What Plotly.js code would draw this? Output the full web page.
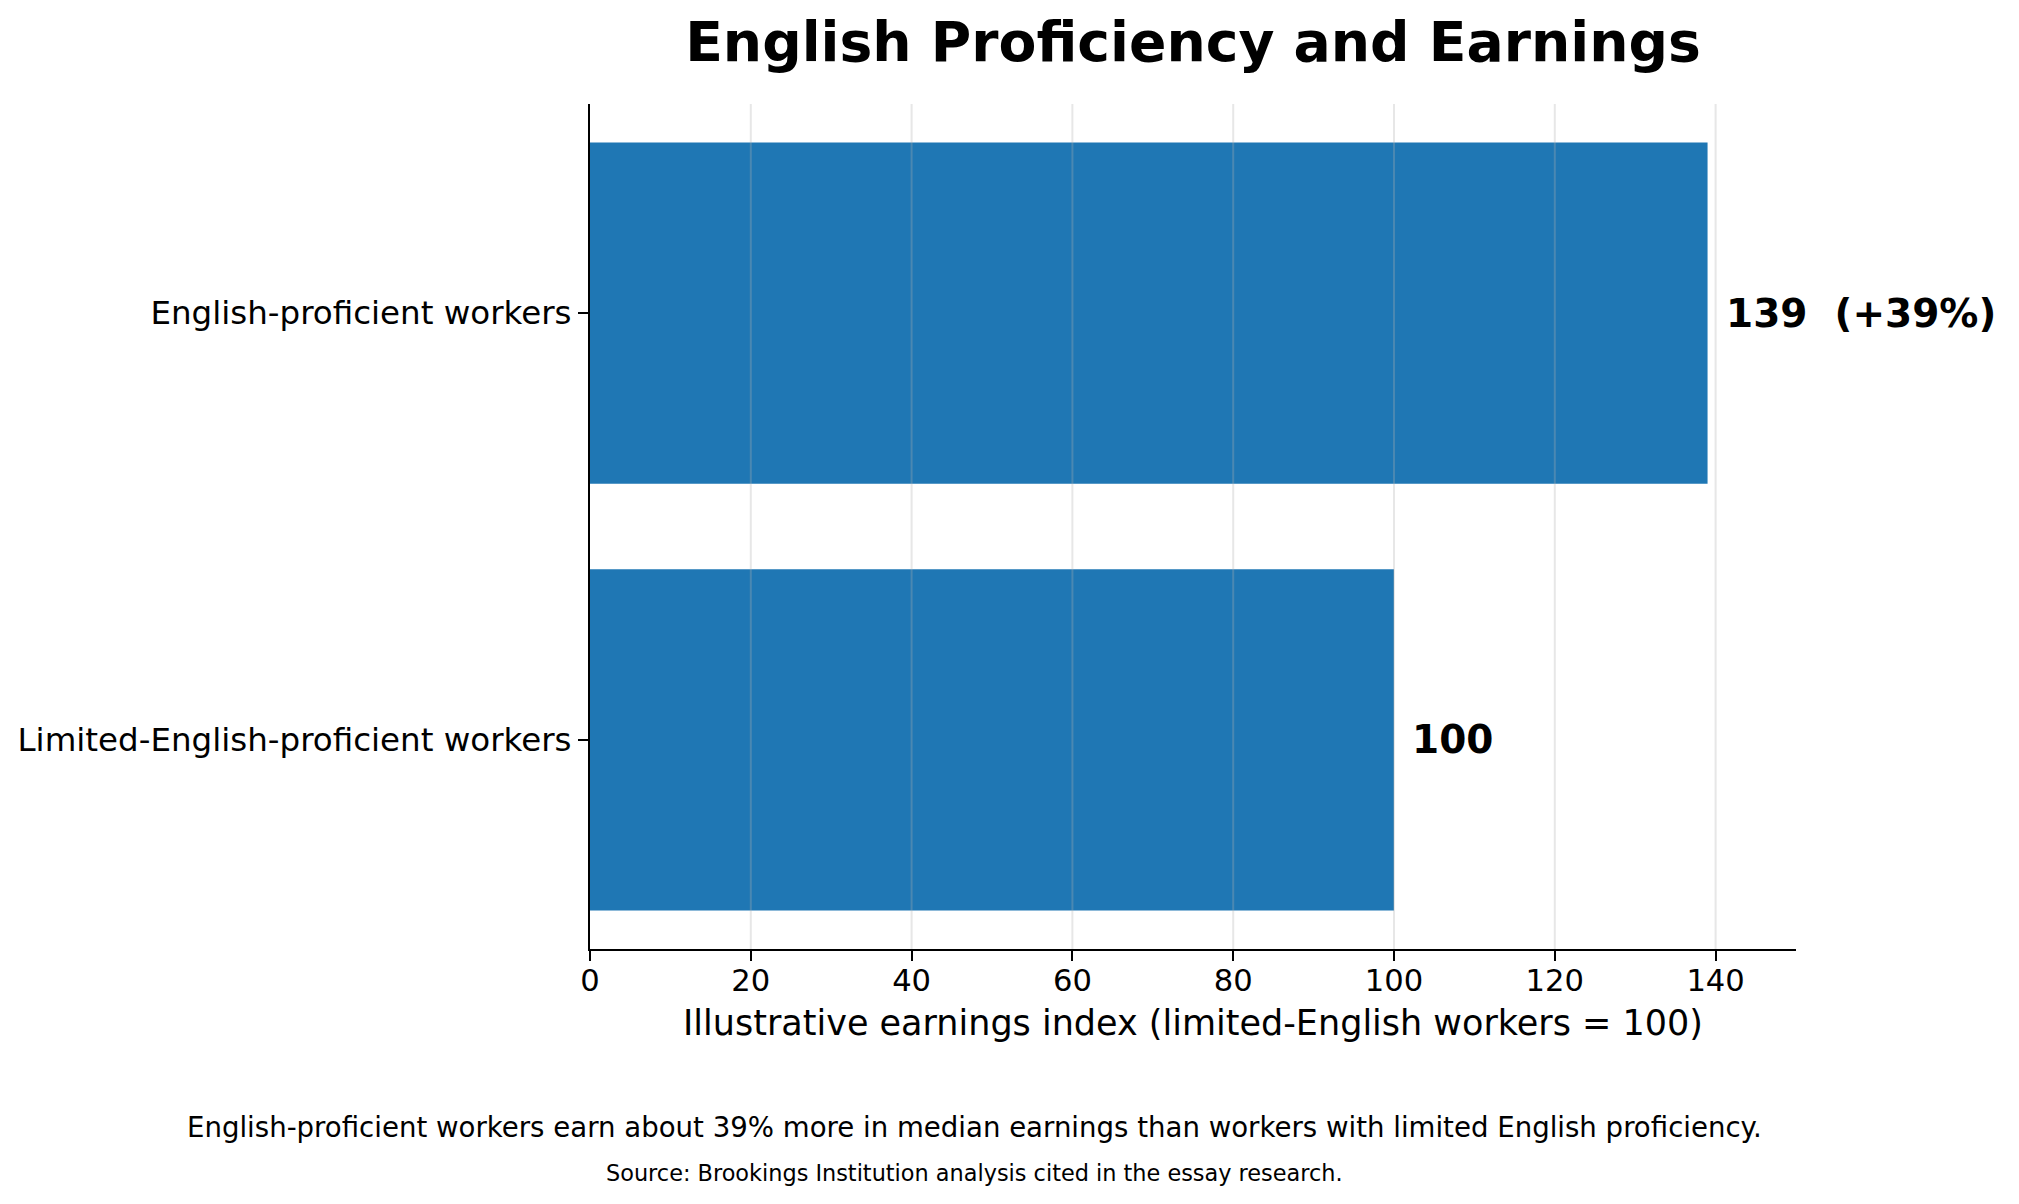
<!DOCTYPE html>
<html>
<head>
<meta charset="utf-8">
<script src="https://cdn.plot.ly/plotly-3.0.1.min.js"></script>
<style>html,body{margin:0;padding:0;background:#fff;}#chart{width:2019px;height:1204px;}</style>
</head>
<body>
<div id="chart"></div>
<script>
// Data
const categories = ["Limited-English-proficient workers", "English-proficient workers"];
const earningsIndex = [100, 139];
const valueLabels = ["100", "139\u00a0 (+39%)"];
const xTickValues = [0, 20, 40, 60, 80, 100, 120, 140];
const titleText = "English Proficiency and Earnings";
const xTitleText = "Illustrative earnings index (limited-English workers = 100)";
const captionText = "English-proficient workers earn about 39% more in median earnings than workers with limited English proficiency.";
const sourceText = "Source: Brookings Institution analysis cited in the essay research.";

const FONT = "DejaVu Sans, Verdana, sans-serif";

const trace = {
  type: "bar",
  orientation: "h",
  y: categories,
  x: earningsIndex,
  marker: {color: "#1f77b4", line: {width: 0}},
  hoverinfo: "skip"
};

const gridShapes = xTickValues.filter(v => v > 0).map(v => ({
  type: "line", xref: "x", yref: "paper",
  x0: v, x1: v, y0: 0, y1: 1,
  layer: "above",
  line: {color: "rgba(176,176,176,0.3)", width: 2}
}));

const valueAnnotations = categories.map((c, i) => ({
  xref: "x", yref: "y",
  x: earningsIndex[i] + 2, y: c,
  text: valueLabels[i],
  showarrow: false,
  xanchor: "left", yanchor: "middle",
  font: {family: FONT, size: 39, color: "#000", weight: "bold"}
}));

const layout = {
  width: 2019, height: 1204,
  paper_bgcolor: "#fff", plot_bgcolor: "#fff",
  margin: {l: 590, r: 223, t: 104, b: 255, pad: 0},
  showlegend: false,
  bargap: 0.2,
  font: {family: FONT, color: "#000"},
  title: {
    text: "<b>" + titleText + "</b>",
    font: {family: FONT, size: 55.2, color: "#000"},
    xref: "paper", x: 0.5, xanchor: "center",
    yref: "container", y: 1 - 42 / 1204, yanchor: "middle"
  },
  xaxis: {
    range: [0, 150],
    tickvals: xTickValues,
    ticktext: xTickValues.map(String),
    showgrid: false,
    zeroline: false,
    showline: true, linecolor: "#000", linewidth: 2,
    ticks: "outside", ticklen: 10, tickwidth: 2, tickcolor: "#000",
    ticklabelstandoff: -7,
    tickfont: {family: FONT, size: 30.6, color: "#000"},
    title: {text: xTitleText, font: {family: FONT, size: 35, color: "#000"}, standoff: 14},
    automargin: false,
    fixedrange: true
  },
  yaxis: {
    type: "category",
    categoryorder: "array",
    categoryarray: categories,
    range: [-0.49, 1.49],
    showgrid: false,
    zeroline: false,
    showline: true, linecolor: "#000", linewidth: 2,
    ticks: "outside", ticklen: 10, tickwidth: 2, tickcolor: "#000",
    ticklabelstandoff: 0,
    tickfont: {family: FONT, size: 32.5, color: "#000"},
    automargin: false,
    fixedrange: true
  },
  shapes: gridShapes,
  annotations: valueAnnotations.concat([
    {
      xref: "paper", yref: "paper",
      x: (974 - 590) / 1206, y: (949 - 1127) / 845,
      text: captionText, showarrow: false,
      xanchor: "center", yanchor: "middle",
      font: {family: FONT, size: 27.6, color: "#000"}
    },
    {
      xref: "paper", yref: "paper",
      x: (974 - 590) / 1206, y: (949 - 1173) / 845,
      text: sourceText, showarrow: false,
      xanchor: "center", yanchor: "middle",
      font: {family: FONT, size: 22.4, color: "#000"}
    }
  ])
};

Plotly.newPlot("chart", [trace], layout, {displayModeBar: false, staticPlot: true});
</script>
</body>
</html>
